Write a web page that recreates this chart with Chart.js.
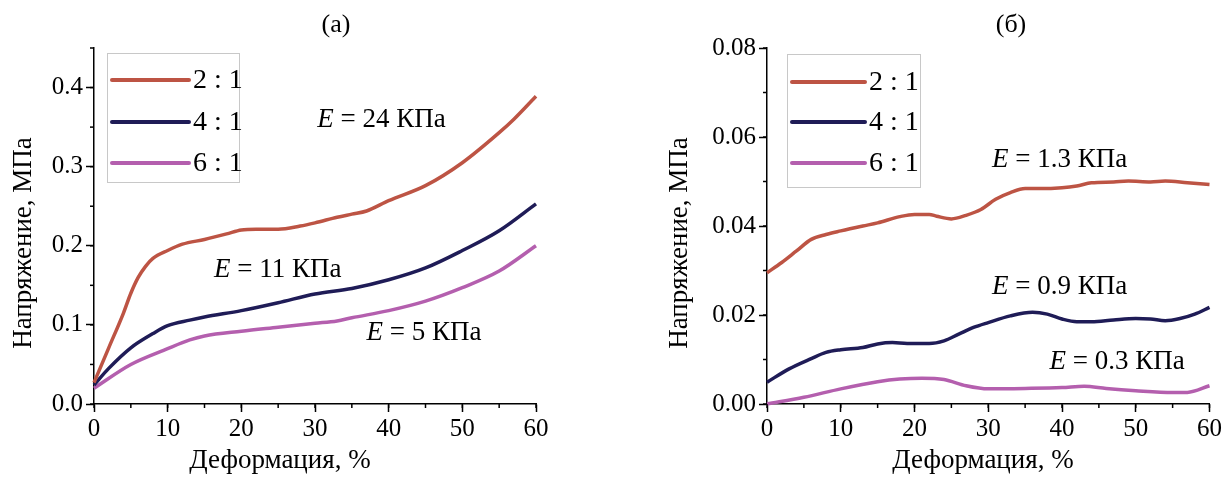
<!DOCTYPE html>
<html>
<head>
<meta charset="utf-8">
<script src="https://cdn.jsdelivr.net/npm/chart.js@4.4.0/dist/chart.umd.min.js"></script>
<style>
    html, body { margin: 0; padding: 0; background: #fff; }
    #wrap { position: relative; width: 1224px; height: 477px; }
    canvas { position: absolute; top: 0; }
</style>
</head>
<body>
<div id="wrap">
    <canvas id="chartA" width="612" height="477" style="left:0"></canvas>
    <canvas id="chartB" width="612" height="477" style="left:612px"></canvas>
</div>
<script>
// --- data ---
const seriesLabels = ['2 : 1', '4 : 1', '6 : 1'];
const seriesColors = ['#bd5444', '#1f1c57', '#b45fae'];

// panel (a)
const strainA21 = [0, 2, 4, 5, 6, 7, 8, 10, 12, 15, 18, 20, 22, 25, 28, 30, 33, 35, 37, 40, 45, 50, 55, 57, 60];
const stressA21 = [0.027, 0.071, 0.115, 0.140, 0.160, 0.174, 0.184, 0.194, 0.202, 0.208, 0.215, 0.220, 0.221, 0.221, 0.225, 0.229, 0.236, 0.240, 0.244, 0.257, 0.276, 0.305, 0.343, 0.360, 0.389];
const strainA41 = [0, 2, 5, 8, 10, 13, 15, 20, 25, 30, 35, 40, 45, 50, 55, 60];
const stressA41 = [0.024, 0.045, 0.071, 0.089, 0.099, 0.106, 0.110, 0.118, 0.128, 0.139, 0.146, 0.157, 0.172, 0.194, 0.219, 0.253];
const strainA61 = [0, 5, 10, 13, 15, 20, 25, 30, 33, 35, 40, 45, 50, 55, 60];
const stressA61 = [0.020, 0.050, 0.070, 0.081, 0.086, 0.092, 0.097, 0.102, 0.105, 0.109, 0.118, 0.130, 0.147, 0.168, 0.200];

// panel (б)
const strainB21 = [0, 2, 4, 6, 8, 10, 13, 15, 18, 20, 22, 23, 25, 27, 29, 31, 33, 35, 37, 40, 42, 44, 47, 49, 52, 54, 57, 60];
const stressB21 = [0.0295, 0.0318, 0.0344, 0.0370, 0.0381, 0.0389, 0.0400, 0.0407, 0.0421, 0.0426, 0.0426, 0.0422, 0.0416, 0.0424, 0.0437, 0.0460, 0.0475, 0.0484, 0.0484, 0.0486, 0.0490, 0.0497, 0.0499, 0.0501, 0.0499, 0.0501, 0.0497, 0.0493];
const strainB41 = [0, 3, 6, 8, 10, 13, 15, 17, 19, 22, 24, 26, 28, 30, 33, 36, 38, 40, 42, 44, 47, 50, 52, 54, 56, 58, 60];
const stressB41 = [0.0049, 0.0079, 0.0102, 0.0116, 0.0122, 0.0127, 0.0135, 0.0138, 0.0136, 0.0136, 0.0142, 0.0157, 0.0172, 0.0183, 0.0198, 0.0206, 0.0202, 0.0191, 0.0185, 0.0185, 0.0189, 0.0192, 0.0191, 0.0187, 0.0192, 0.0202, 0.0217];
const strainB61 = [0, 5, 10, 15, 18, 21, 24, 27, 30, 35, 40, 43, 46, 50, 55, 57, 60];
const stressB61 = [0.0000, 0.0015, 0.0034, 0.0050, 0.0056, 0.0058, 0.0055, 0.0041, 0.0034, 0.0035, 0.0037, 0.0040, 0.0035, 0.0030, 0.0026, 0.0026, 0.0041];

const modulusA = ['24', '11', '5'];
const modulusB = ['1.3', '0.9', '0.3'];

const xTitle = 'Деформация, %';
const yTitle = 'Напряжение, МПа';

const SERIF = '"Liberation Serif", "Times New Roman", serif';

function toPoints(xs, ys) {
    return xs.map((x, i) => ({ x: x, y: ys[i] }));
}

// draws the panel letter, axis titles, legend box, minor ticks and E labels
const decorPlugin = {
    id: 'decor',
    afterDraw(chart, args, o) {
        const ctx = chart.ctx;
        const xs = chart.scales.x, ys = chart.scales.y;
        ctx.save();

        // minor ticks
        ctx.strokeStyle = '#000';
        ctx.lineWidth = 1.5;
        for (let v = xs.min; v <= xs.max + 1e-9; v += o.minorX) {
            const p = xs.getPixelForValue(v);
            ctx.beginPath(); ctx.moveTo(p, xs.top); ctx.lineTo(p, xs.top + 4); ctx.stroke();
        }
        for (let v = ys.min; v <= ys.max + 1e-9; v += o.minorY) {
            const p = ys.getPixelForValue(v);
            ctx.beginPath(); ctx.moveTo(ys.right, p); ctx.lineTo(ys.right - 4, p); ctx.stroke();
        }

        ctx.fillStyle = '#000';
        // panel letter
        ctx.font = '26px ' + SERIF;
        ctx.textAlign = 'center';
        ctx.textBaseline = 'middle';
        ctx.fillText(o.letter, o.letterX, 25);

        // axis titles
        ctx.font = '27px ' + SERIF;
        ctx.fillText(xTitle, o.xTitleX, 461);
        ctx.save();
        ctx.translate(o.yTitleX, 243);
        ctx.rotate(-Math.PI / 2);
        ctx.fillText(yTitle, 0, 0);
        ctx.restore();

        // legend
        const lg = o.legend;
        ctx.strokeStyle = '#c8c8c8';
        ctx.lineWidth = 1;
        ctx.strokeRect(lg.left + 0.5, lg.top + 0.5, lg.width, lg.height);
        ctx.font = '28px ' + SERIF;
        ctx.textAlign = 'left';
        chart.data.datasets.forEach((ds, i) => {
            const y = lg.rowY[i];
            ctx.strokeStyle = ds.borderColor;
            ctx.lineWidth = 4;
            ctx.lineCap = 'round';
            ctx.beginPath(); ctx.moveTo(lg.lineX0, y); ctx.lineTo(lg.lineX1, y); ctx.stroke();
            ctx.fillStyle = '#000';
            ctx.fillText(ds.label, lg.lineX1 + 4, y + 1);
        });

        // modulus labels
        o.notes.forEach(n => {
            const px = xs.getPixelForValue(n.x);
            const py = ys.getPixelForValue(n.y);
            ctx.font = 'italic 27px ' + SERIF;
            ctx.fillText('E', px, py);
            const w = ctx.measureText('E').width;
            ctx.font = '27px ' + SERIF;
            ctx.fillText(' = ' + n.text + ' КПа', px + w, py);
        });

        ctx.restore();
    }
};

function makePanel(canvasId, cfg) {
    const tickFont = { family: SERIF, size: 25 };
    return new Chart(document.getElementById(canvasId), {
        type: 'line',
        data: {
            datasets: cfg.series.map((s, i) => ({
                label: seriesLabels[i],
                data: toPoints(s[0], s[1]),
                borderColor: seriesColors[i],
                borderWidth: 3.5,
                pointRadius: 0,
                cubicInterpolationMode: 'monotone',
                fill: false,
                clip: 4
            }))
        },
        options: {
            responsive: false,
            animation: false,
            devicePixelRatio: 1,
            layout: { padding: { left: 0, right: cfg.padRight, top: 48, bottom: 0 } },
            plugins: {
                legend: { display: false },
                tooltip: { enabled: false },
                decor: cfg.decor
            },
            scales: {
                x: {
                    type: 'linear',
                    min: 0,
                    max: 60,
                    ticks: { stepSize: 10, font: tickFont, color: '#000', padding: 2, maxRotation: 0, autoSkip: false },
                    grid: { drawOnChartArea: false, tickLength: 8, tickColor: '#000', tickWidth: 1.5 },
                    border: { display: true, color: '#000', width: 1.5 },
                    afterFit: s => { s.height = 73; }
                },
                y: {
                    min: 0,
                    max: cfg.yMax,
                    ticks: {
                        stepSize: cfg.yStep,
                        includeBounds: false,
                        font: tickFont,
                        color: '#000',
                        padding: 3,
                        callback: v => v.toFixed(cfg.yDigits)
                    },
                    grid: { drawOnChartArea: false, tickLength: 8, tickColor: '#000', tickWidth: 1.5 },
                    border: { display: true, color: '#000', width: 1.5 },
                    afterFit: s => { s.width = cfg.yWidth; }
                }
            }
        },
        plugins: [decorPlugin]
    });
}

makePanel('chartA', {
    series: [[strainA21, stressA21], [strainA41, stressA41], [strainA61, stressA61]],
    yMax: 0.45, yStep: 0.1, yDigits: 1, yWidth: 94, padRight: 76,
    decor: {
        letter: '(а)', letterX: 336, xTitleX: 280, yTitleX: 24,
        minorX: 5, minorY: 0.05,
        legend: { left: 107, top: 53, width: 132, height: 129, lineX0: 112, lineX1: 189, rowY: [80, 122, 163] },
        notes: [
            { text: modulusA[0], x: 30.3, y: 0.359 },
            { text: modulusA[1], x: 16.3, y: 0.170 },
            { text: modulusA[2], x: 37.0, y: 0.090 }
        ]
    }
});

makePanel('chartB', {
    series: [[strainB21, stressB21], [strainB41, stressB41], [strainB61, stressB61]],
    yMax: 0.08, yStep: 0.02, yDigits: 2, yWidth: 155, padRight: 14,
    decor: {
        letter: '(б)', letterX: 399, xTitleX: 371, yTitleX: 68,
        minorX: 5, minorY: 0.01,
        legend: { left: 175, top: 54, width: 133, height: 133, lineX0: 180, lineX1: 253, rowY: [82, 122, 163] },
        notes: [
            { text: modulusB[0], x: 30.5, y: 0.0548 },
            { text: modulusB[1], x: 30.5, y: 0.0263 },
            { text: modulusB[2], x: 38.3, y: 0.0094 }
        ]
    }
});
</script>
</body>
</html>
